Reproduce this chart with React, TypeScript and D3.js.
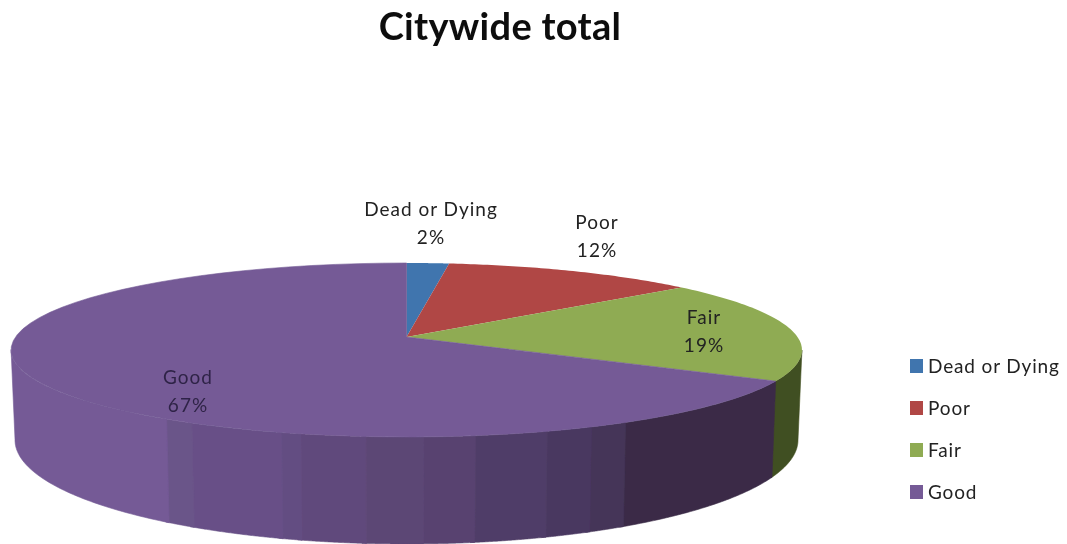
import React from "react";
import * as d3 from "d3";

const categories = ["Dead or Dying", "Poor", "Fair", "Good"];
const values = [2, 12, 19, 67];
const colors = ["#3f75ae", "#b04644", "#8fab52", "#745a96"];
const greenWall = "#414f20";
const purpleWallBreaks = [33, 41.9, 43.3, 45, 47.6, 49.4, 51.4, 53.7, 54.4, 57.9, 59, 72.7];
const purpleWallShades = ["#3a2b47", "#453558", "#493861", "#503e67", "#584370", "#5c4775", "#61497b", "#644e82", "#675087", "#6b5489", "#745a96"];

const W = 1067, H = 544;
const cx = 406.5;
const apexY = 337;
const a = 85.06, p = 0.1494, b = 391;
const topCy = 350, botCy = 440, botYScale = 1.195, botXScale = 0.99;
const silhouetteRight = 27.4;

function rim(theta: number): [number, number] {
  const u = Math.sin(theta), v = Math.cos(theta), d = 1 + p * v;
  return [cx + (b * u) / d, apexY - (a * v) / d];
}
function rimBottom(theta: number): [number, number] {
  const [x, y] = rim(theta);
  return [cx + (x - cx) * botXScale, botCy + (y - topCy) * botYScale];
}
const thetas = (t0: number, t1: number) => d3.range(0, 61).map((i) => t0 + ((t1 - t0) * i) / 60);
const line = d3.line();

const arcs = d3.pie<number>().sort(null)(values);
const pct = d3.scaleLinear().domain([0, 100]).range([0, 2 * Math.PI]);

function wall(t0: number, t1: number) {
  const top = thetas(t0, t1).map(rim);
  const bot = thetas(t1, t0).map(rimBottom);
  return line([...top, ...bot])! + "Z";
}
function slice(t0: number, t1: number) {
  return line([[cx, apexY], ...thetas(t0, t1).map(rim)])! + "Z";
}

const labelPos = [[431, 216], [597, 229], [704, 324], [188, 384]];
const legendYs = d3.scalePoint<string>().domain(categories).range([366, 492]);

export default function App() {
  const font = "Lato, 'Open Sans', sans-serif";
  return (
    <svg width={W} height={H} viewBox={`0 0 ${W} ${H}`} style={{ position: "fixed", left: 0, top: 0, background: "#fff" }}>
      <defs>
        <filter id="soft" x="-5%" y="-5%" width="110%" height="110%">
          <feGaussianBlur stdDeviation="0.6" />
        </filter>
      </defs>
      <g filter="url(#soft)">
        <path d={wall(pct(silhouetteRight), arcs[2].endAngle + 0.005)} fill={greenWall} stroke={greenWall} strokeWidth={0.6} />
        {purpleWallShades.map((c, i) => {
          const t0 = pct(purpleWallBreaks[i]);
          const t1 = pct(purpleWallBreaks[i + 1]) + (i < purpleWallShades.length - 1 ? 0.01 : 0);
          return <path key={c + i} d={wall(t0, t1)} fill={c} stroke={c} strokeWidth={0.6} />;
        })}
        {arcs.map((d, i) => (
          <path key={i} d={slice(d.startAngle, d.endAngle)} fill={colors[i]} stroke={i === 3 ? colors[i] : "none"} strokeWidth={0.6} />
        ))}
      </g>
      <g filter="url(#soft)" style={{ fontFamily: font }}>
        <text x={500} y={40} textAnchor="middle" fontSize={38} fontWeight={700} letterSpacing={0.3} fill="#111">Citywide total</text>
        {categories.map((c, i) => {
          const [x, y] = labelPos[i];
          const fill = i === 3 ? "#2f2447" : "#222";
          return (
            <text key={c} textAnchor="middle" fontSize={19} letterSpacing={1} fill={fill}>
              <tspan x={x} y={y}>{c}</tspan>
              <tspan x={x} y={y + 28}>{values[i]}%</tspan>
            </text>
          );
        })}
        {categories.map((c, i) => (
          <g key={c} transform={`translate(910,${legendYs(c)})`}>
            <rect x={0} y={-7} width={13} height={14} fill={colors[i]} />
            <text x={18} y={7} fontSize={19} letterSpacing={0.85} fill="#222">{c}</text>
          </g>
        ))}
      </g>
    </svg>
  );
}
